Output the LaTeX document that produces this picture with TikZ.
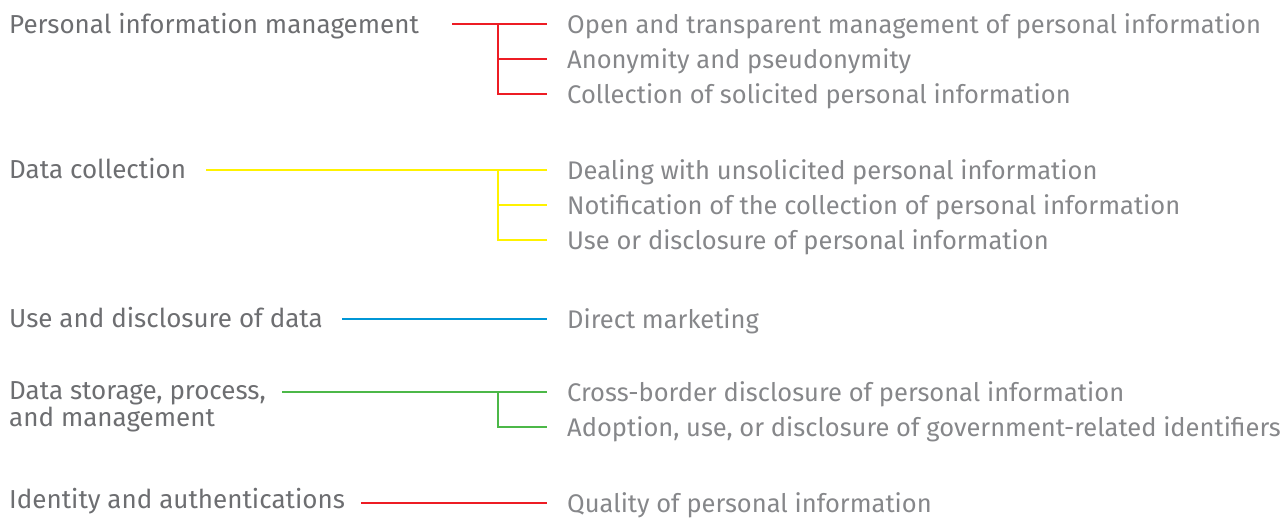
\documentclass[tikz,border=0pt]{standalone}
\usepackage{fontspec}
\setmainfont{Fira Sans}
\usetikzlibrary{positioning}
\definecolor{topicgray}{HTML}{6D6E71}
\definecolor{itemgray}{HTML}{86878A}
\definecolor{pimred}{HTML}{ED1C24}
\definecolor{dcyellow}{HTML}{FFF200}
\definecolor{udblue}{HTML}{0096D6}
\definecolor{dsgreen}{HTML}{4CB848}
\def\topicsize{\fontsize{26}{27}\selectfont}
\def\itemsize{\fontsize{25.5}{27}\selectfont}

\begin{document}
\begin{tikzpicture}[x=1pt, y=-1pt,
    topic/.style={anchor=base west, inner sep=0pt, text=topicgray, font=\topicsize, align=left},
    item/.style={anchor=base west, inner sep=0pt, text=itemgray, font=\itemsize},
    link/.style={line width=2.4pt}]
  \useasboundingbox (0,0) rectangle (1282,523);

  % Personal information management
  \node[topic] (pim) at (9,33) {Personal information management};
  \node[item] (pim1) at (567,33) {Open and transparent management of personal information};
  \node[item] (pim2) at (567,68) {Anonymity and pseudonymity};
  \node[item] (pim3) at (567,103) {Collection of solicited personal information};
  \coordinate (pimS) at (452,24);
  \coordinate (pimJ) at (498,24);

  % Data collection
  \node[topic] (dc) at (9,178) {Data collection};
  \node[item] (dc1) at (567,179) {Dealing with unsolicited personal information};
  \node[item] (dc2) at (567,214) {Notification of the collection of personal information};
  \node[item] (dc3) at (567,249) {Use or disclosure of personal information};
  \coordinate (dcS) at (206,170);
  \coordinate (dcJ) at (498,170);

  % Use and disclosure
  \node[topic] (ud) at (9,327) {Use and disclosure of data};
  \node[item] (ud1) at (567,328) {Direct marketing};
  \coordinate (udS) at (342,319);

  % Data storage (base is the second line)
  \node[topic] (ds) at (9,426) {Data storage, process,\\and management};
  \node[item] (ds1) at (567,401) {Cross-border disclosure of personal information};
  \node[item] (ds2) at (567,436) {Adoption, use, or disclosure of government-related identifiers};
  \coordinate (dsS) at (282,392);
  \coordinate (dsJ) at (498,392);

  % Identity
  \node[topic] (ia) at (9,508) {Identity and authentications};
  \node[item] (ia1) at (567,512) {Quality of personal information};
  \coordinate (iaS) at (361,503);

  % line ends in front of the items
  \foreach \n in {pim1,pim2,pim3,dc1,dc2,dc3,ud1,ds1,ds2,ia1}
    \coordinate (\n e) at ([xshift=-20pt,yshift=9pt]\n.base west);

  % Connectors
  \draw[link,pimred] (pimS) -- (pim1e);
  \draw[link,pimred] (pimJ) |- (pim3e);
  \draw[link,pimred] (pimJ |- pim2e) -- (pim2e);

  \draw[link,dcyellow] (dcS) -- (dc1e);
  \draw[link,dcyellow] (dcJ) |- (dc3e);
  \draw[link,dcyellow] (dcJ |- dc2e) -- (dc2e);

  \draw[link,udblue] (udS) -- (ud1e);

  \draw[link,dsgreen] (dsS) -- (ds1e);
  \draw[link,dsgreen] (dsJ) |- (ds2e);

  \draw[link,pimred] (iaS) -- (ia1e);
\end{tikzpicture}
\end{document}
